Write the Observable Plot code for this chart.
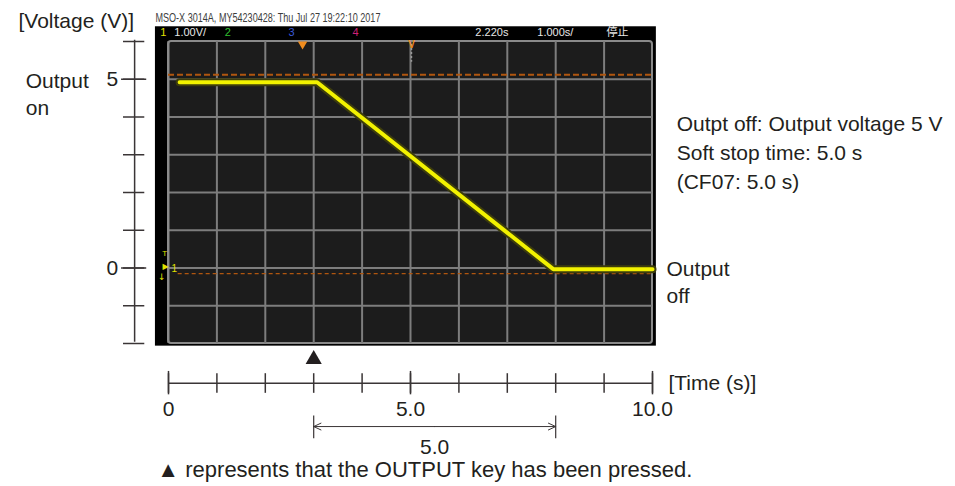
<!DOCTYPE html>
<html><head><meta charset="utf-8">
<script src="https://cdn.jsdelivr.net/npm/d3@7"></script>
<script src="https://cdn.jsdelivr.net/npm/@observablehq/plot@0.6"></script>
<style>body{margin:0;background:#fff;}</style>
</head><body><div id="chart"></div>
<script>
// ---- data ----
const traceTime = [0.23, 3.07, 7.95, 10.0];
const traceVolts = [4.92, 4.92, -0.03, -0.03];
const gridTimes = [0, 1, 2, 3, 4, 5, 6, 7, 8, 9, 10];
const gridVolts = [-2, -1, 0, 1, 2, 3, 4, 5, 6];
const voltTicks = [-2, -1, 0, 1, 2, 3, 4, 5, 6];
const voltLabelValues = [5, 0];
const voltLabelTexts = ["5", "0"];
const timeTicks = [0, 1, 2, 3, 4, 5, 6, 7, 8, 9, 10];
const timeLabelValues = [0, 5, 10];
const timeLabelTexts = ["0", "5.0", "10.0"];
const refLevels = [5.12, -0.15];
const keyPressTime = 3;
const softStopSpan = [3, 8];
const softStopText = "5.0";
const headerText = "MSO-X 3014A, MY54230428: Thu Jul 27 19:22:10 2017";
const barLabels = ["1", "1.00V/", "2", "3", "4", "2.220s", "1.000s/", "停止"];
const barLabelPos = [-0.17, 0.12, 1.16, 2.48, 3.80, 6.34, 7.62, 9.05];
const barLabelColors = ["#e0e000", "#e8e8e8", "#30c030", "#3a5ad8", "#d0207a", "#e8e8e8", "#e8e8e8", "#e8e8e8"];
const noteLines = ["Outpt off: Output voltage 5 V", "Soft stop time: 5.0 s", "(CF07: 5.0 s)"];

const trace = traceTime.map((t, i) => ({t, v: traceVolts[i]}));
const ink = "#231f20";
const font = "Liberation Sans, Arial, sans-serif";
const fs = 21;

const txt = (s, o) => Plot.text([s], {text: d => d, fill: ink, fontSize: fs, fontFamily: font, ...o});

const chart = Plot.plot({
  width: 955, height: 486,
  marginLeft: 168, marginRight: 303, marginTop: 41, marginBottom: 143,
  x: {domain: [0, 10], axis: null},
  y: {domain: [-2, 6], axis: null},
  style: {fontFamily: font, background: "#fff"},
  marks: [
    // scope screen
    Plot.rect([0], {x1: -0.27, x2: 10.08, y1: -2.07, y2: 6.39, fill: "#000"}),
    Plot.rect([0], {x1: 0, x2: 10, y1: -2, y2: 6, fill: "#1c1c1c", stroke: "#8a8a8a", strokeWidth: 2, rx: 3}),
    Plot.ruleX(gridTimes.slice(1, -1), {x: d => d, y1: -2, y2: 6, stroke: "#7d7d7d", strokeWidth: 2}),
    Plot.ruleY(gridVolts.slice(1, -1), {y: d => d, x1: 0, x2: 10, stroke: "#7d7d7d", strokeWidth: 2}),
    Plot.ruleX([0], {x: d => d, y1: -2, y2: 6, stroke: "#8a8a8a", strokeWidth: 2}),
    // reference levels
    Plot.ruleY([refLevels[0]], {y: d => d, x1: 0, x2: 10, stroke: "#b0560f", strokeWidth: 2, strokeDasharray: "6,3"}),
    Plot.ruleY([refLevels[1]], {y: d => d, x1: 0.2, x2: 10, stroke: "#b0560f", strokeWidth: 1.2, strokeDasharray: "4,3"}),
    // trace
    Plot.line(trace, {x: "t", y: "v", stroke: "#3d3d0c", strokeWidth: 8, strokeLinejoin: "miter"}),
    Plot.line(trace, {x: "t", y: "v", stroke: "#f2f200", strokeWidth: 4, strokeLinejoin: "miter"}),
    // trigger markers
    Plot.dot([2.77], {x: d => d, y: 5.93, symbol: "triangle", rotate: 180, r: 3.5, fill: "#f08c1e"}),
    Plot.ruleX([5.02], {x: d => d, y1: 5.92, y2: 5.45, stroke: "#9a9a9a", strokeWidth: 1.5, strokeDasharray: "2,2"}),
    Plot.text(["V"], {text: d => d, x: 5.02, y: 5.9, fill: "#f08c1e", fontSize: 10, fontWeight: "bold", fontFamily: font}),
    // channel 1 ground marker
    Plot.text(["1"], {text: d => d, x: 0.12, y: -0.02, fill: "#e0e000", fontSize: 10, fontFamily: font}),
    Plot.text(["▶"], {text: d => d, x: -0.06, y: 0.05, fill: "#e0e000", fontSize: 8, fontFamily: "DejaVu Sans"}),
    Plot.text(["T"], {text: d => d, x: -0.08, y: 0.38, fill: "#e0e000", fontSize: 8, fontFamily: font}),
    Plot.text(["↓"], {text: d => d, x: -0.14, y: -0.25, fill: "#e0e000", fontSize: 9, fontFamily: "DejaVu Sans"}),
    // header bar
    Plot.text([headerText], {text: d => d, x: -0.27, y: 6.63, textAnchor: "start", fill: "#3c3c3c", fontSize: 12, fontFamily: "Liberation Sans Narrow, Liberation Sans, sans-serif"}),
    Plot.text(barLabels, {text: d => d, x: (d, i) => barLabelPos[i], y: 6.23, textAnchor: "start", fill: (d, i) => barLabelColors[i], fontSize: 11, fontFamily: "Liberation Sans, Noto Sans CJK JP, sans-serif"}),
    // left voltage axis
    Plot.ruleX([-0.70], {x: d => d, y1: -1.97, y2: 6.03, stroke: "#3a3536", strokeWidth: 1.5}),
    Plot.ruleY(voltTicks, {y: d => d, x1: -0.93, x2: -0.49, stroke: "#3a3536", strokeWidth: 1.5}),
    Plot.ruleY(voltLabelValues, {y: d => d, x1: -0.97, x2: -0.45, stroke: "#3a3536", strokeWidth: 1.5}),
    Plot.text(voltLabelTexts, {text: d => d, x: -1.16, y: (d, i) => voltLabelValues[i], fill: ink, fontSize: fs, fontFamily: font}),
    txt("[Voltage (V)]", {x: -3.10, y: 6.53, textAnchor: "start"}),
    txt("Output", {x: -2.95, y: 4.94, textAnchor: "start"}),
    txt("on", {x: -2.95, y: 4.23, textAnchor: "start"}),
    // right notes
    Plot.text(noteLines, {text: d => d, x: 10.5, y: (d, i) => 3.80 - i * 0.77, textAnchor: "start", fill: ink, fontSize: fs, fontFamily: font}),
    txt("Output", {x: 10.29, y: -0.04, textAnchor: "start"}),
    txt("off", {x: 10.29, y: -0.75, textAnchor: "start"}),
    // key press marker
    Plot.dot([keyPressTime], {x: d => d, y: -2.42, symbol: "triangle", r: 6, fill: ink}),
    // time axis
    Plot.ruleY([-3.05], {y: d => d, x1: 0, x2: 10, stroke: "#3a3536", strokeWidth: 1.5}),
    Plot.ruleX(timeTicks, {x: d => d, y1: -2.8, y2: -3.32, stroke: "#3a3536", strokeWidth: 1.5}),
    Plot.ruleX(timeLabelValues, {x: d => d, y1: -2.74, y2: -3.36, stroke: "#3a3536", strokeWidth: 1.5}),
    Plot.text(timeLabelTexts, {text: d => d, x: (d, i) => timeLabelValues[i], y: -3.75, fill: ink, fontSize: fs, fontFamily: font}),
    txt("[Time (s)]", {x: 10.33, y: -3.05, textAnchor: "start"}),
    // soft stop dimension
    Plot.ruleX(softStopSpan, {x: d => d, y1: -3.92, y2: -4.52, stroke: "#3a3536", strokeWidth: 1.2}),
    Plot.arrow([0], {x1: 5.5, x2: softStopSpan[0], y1: -4.2, y2: -4.2, stroke: "#3a3536", strokeWidth: 1, headLength: 12, headAngle: 50}),
    Plot.arrow([0], {x1: 5.5, x2: softStopSpan[1], y1: -4.2, y2: -4.2, stroke: "#3a3536", strokeWidth: 1, headLength: 12, headAngle: 50}),
    txt(softStopText, {x: (softStopSpan[0] + softStopSpan[1]) / 2, y: -4.74}),
    txt("▲ represents that the OUTPUT key has been pressed.", {x: -0.23, y: -5.36, textAnchor: "start", fontSize: 22})
  ]
});

d3.select(chart).selectAll("text").filter(function () { return this.textContent.startsWith("MSO-X"); })
  .attr("textLength", 225).attr("lengthAdjust", "spacingAndGlyphs");
document.getElementById("chart").appendChild(chart);
</script></body></html>
